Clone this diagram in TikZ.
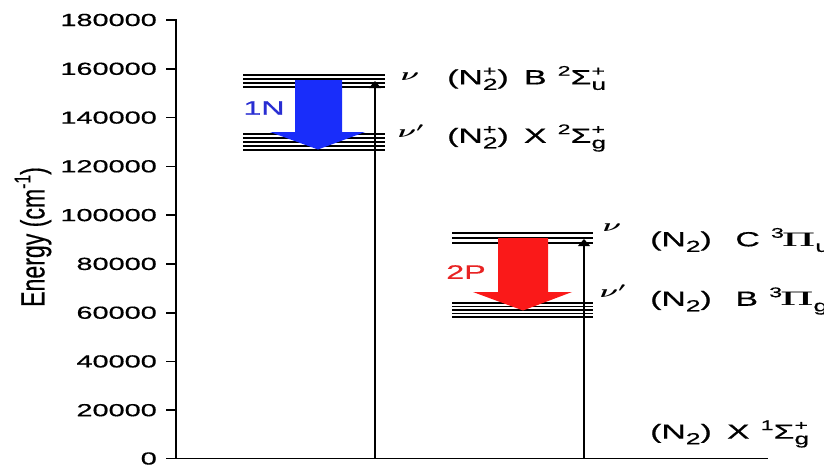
\documentclass[tikz,border=0pt]{standalone}
\usepackage{amsmath}
\usepackage[no-math]{fontspec}
\setmainfont{Liberation Sans}[FakeBold=0.4]
\newfontfamily\lab{Liberation Sans}[FakeBold=0.5]
\usepackage{graphicx}
\usetikzlibrary{arrows.meta}
\newcommand{\hs}[1]{\scalebox{1.65}[1]{#1}}
\newcommand{\lo}[1]{\raisebox{-0.27em}{\scalebox{0.78}{#1}}}
\newcommand{\hi}[1]{\raisebox{0.42em}{\scalebox{0.68}{#1}}}
\newcommand{\hilo}[2]{\rlap{\hi{#1}}\lo{#2}}
\newcommand{\bigPi}{\hspace{-0.05em}\scalebox{1.1}[0.95]{$\boldsymbol{\Pi}$}}
\newcommand{\nub}{$\boldsymbol{\nu}$}
\newcommand{\gapA}{\hspace{0.45em}}
\newcommand{\gapB}{\hspace{0.7em}}
\newcommand{\gapS}{\hspace{0.33em}}
\definecolor{arrblue}{RGB}{25,45,250}
\definecolor{txtblue}{RGB}{40,45,210}
\definecolor{arrred}{RGB}{250,25,25}
\definecolor{txtred}{RGB}{232,35,35}
\begin{document}
\begin{tikzpicture}[x=1pt,y=-1pt,
  axisline/.style={line width=1.6pt, line cap=rect},
  level/.style={line width=1.3pt},
  ticklab/.style={anchor=east, inner sep=0pt, font=\lab\fontsize{17.5}{20}\selectfont},
  statelab/.style={anchor=west, inner sep=0pt, font=\lab\fontsize{20.5}{22}\selectfont},
  nulab/.style={inner sep=0pt, font=\fontsize{18}{22}\selectfont},
  translab/.style={inner sep=0pt, font=\lab\fontsize{19.5}{22}\selectfont},
  excite/.style={line width=1.3pt, -{Triangle[width=12pt,length=7pt]}},
]
\useasboundingbox (0,0) rectangle (824,464);
% axes
\coordinate (atop) at (176,20);
\coordinate (aorig) at (176,458.5);
\coordinate (aright) at (767,458.5);
\draw[axisline] (atop) -- (aorig) -- (aright);
\foreach \v/\yy in {0/458.5,20000/410.2,40000/361.4,60000/312.7,80000/263.9,100000/215.1,120000/166.3,140000/117.6,160000/68.8,180000/20}{
  \draw[axisline] (167,\yy) -- (176,\yy);
  \node[ticklab] (t\v) at (157,\yy) {\hs{\v}};
}
\node[rotate=90, inner sep=0pt, font=\lab\fontsize{21}{24}\selectfont] (ylab) at (33,237)
  {\scalebox{1.1}[1.6]{Energy (cm\hi{-1})}};
% level groups
\foreach \yy in {75,79,83,87} \draw[level] (243,\yy) -- (385,\yy);
\foreach \yy in {134,138,142,146,150} \draw[level] (243,\yy) -- (385,\yy);
\foreach \yy in {233,238,243} \draw[level] (452,\yy) -- (593,\yy);
\foreach \yy in {303,306.5,310,313.5,317} \draw[level] (452,\yy) -- (593,\yy);
% transition arrows
\fill[arrblue] (295,80) -- (342,80) -- (342,132) -- (365,132) -- (318,149.5) -- (270,132) -- (295,132) -- cycle;
\fill[arrred] (498,238) -- (548,238) -- (548,292) -- (572,292) -- (523,310.5) -- (473,292) -- (498,292) -- cycle;
\node[translab, text=txtblue] (l1N) at (264,108) {\hs{1N}};
\node[translab, text=txtred] (l2P) at (466,272) {\hs{2P}};
% excitation arrows
\coordinate (b1) at (375,458.5);
\coordinate (e1) at (375,81);
\coordinate (b2) at (584,458.5);
\coordinate (e2) at (584,239);
\draw[excite] (b1) -- (e1);
\draw[excite] (b2) -- (e2);
% vibrational labels
\node[nulab] (nu1) at (410,77) {\hs{\nub}};
\node[nulab] (nu1p) at (411,131) {\hs{$\boldsymbol{\nu'}$}};
\node[nulab] (nu2) at (612,228) {\hs{\nub}};
\node[nulab] (nu2p) at (613,291) {\hs{$\boldsymbol{\nu'}$}};
% state labels
\node[statelab] (sB) at (447,78) {\hs{(N\hilo{+}{2})\gapA B\gapS\hi{2}Σ\hilo{+}{u}}};
\node[statelab] (sX) at (447,138) {\hs{(N\hilo{+}{2})\gapA X\gapS\hi{2}Σ\hilo{+}{g}}};
\node[statelab] (sC3) at (650,240) {\hs{(N\lo{2})\gapB C\gapS\hi{3}\bigPi\lo{u}}};
\node[statelab] (sB3) at (650,301) {\hs{(N\lo{2})\gapB B\gapS\hi{3}\bigPi\lo{g}}};
\node[statelab] (sX1) at (650,434) {\hs{(N\lo{2})\gapA X\gapS\hi{1}Σ\hilo{+}{g}}};
\end{tikzpicture}
\end{document}
